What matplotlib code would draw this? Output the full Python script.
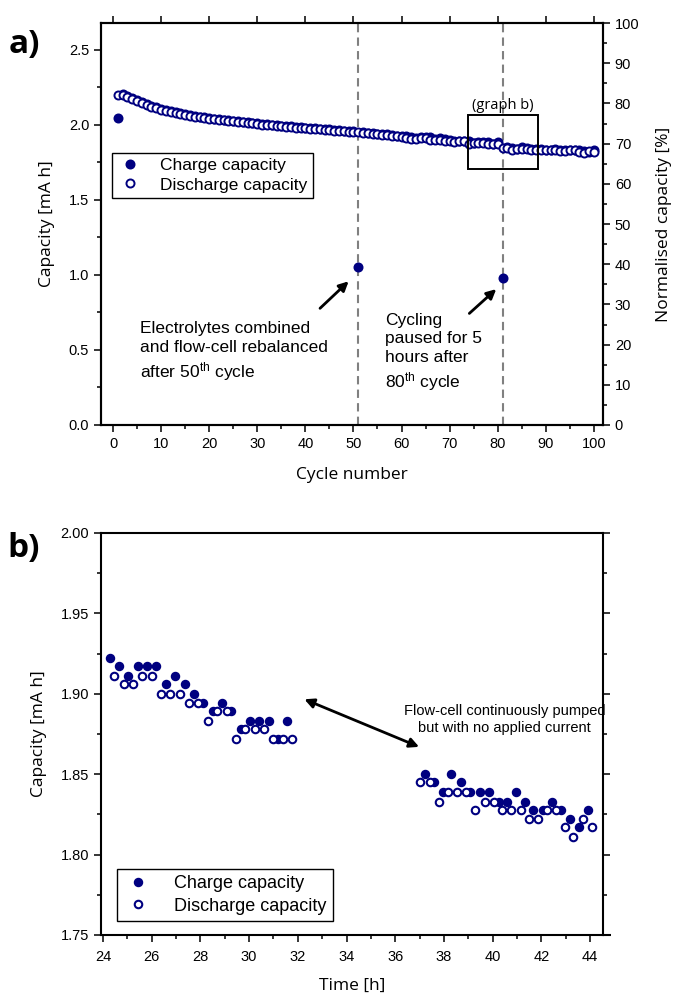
import matplotlib
matplotlib.use("Agg")
import matplotlib.pyplot as plt
from matplotlib.ticker import MultipleLocator, FormatStrFormatter
from matplotlib.patches import Rectangle

plt.rcParams['font.family'] = ['Liberation Sans', 'DejaVu Sans']
plt.rcParams['mathtext.fontset'] = 'custom'
plt.rcParams['mathtext.rm'] = 'Liberation Sans'
plt.rcParams['mathtext.it'] = 'Liberation Sans:italic'

NAVY = '#000080'
TICK_FONT = ['Liberation Sans Narrow', 'Liberation Sans']
LABEL_FONT = ['Open Sans', 'DejaVu Sans']

# ---- (a) capacity per cycle ----
cycle_number = list(range(1, 101))
charge_a = [
    2.045, 2.203, 2.191, 2.175, 2.161, 2.148, 2.136, 2.125, 2.115, 2.105,
    2.097, 2.090, 2.083, 2.077, 2.071, 2.065, 2.059, 2.054, 2.049, 2.045,
    2.041, 2.037, 2.034, 2.030, 2.027, 2.023, 2.020, 2.016, 2.013, 2.010,
    2.006, 2.003, 2.000, 1.997, 1.994, 1.991, 1.988, 1.985, 1.983, 1.980,
    1.978, 1.975, 1.973, 1.971, 1.968, 1.966, 1.963, 1.961, 1.958, 1.956,
    1.055, 1.950, 1.947, 1.944, 1.941, 1.938, 1.935, 1.931, 1.927, 1.923,
    1.922, 1.917, 1.911, 1.917, 1.917, 1.917, 1.906, 1.911, 1.906, 1.900,
    1.894, 1.889, 1.894, 1.889, 1.878, 1.883, 1.883, 1.883, 1.872, 1.883,
    0.977, 1.850, 1.845, 1.839, 1.850, 1.845, 1.839, 1.839, 1.839, 1.833,
    1.833, 1.839, 1.833, 1.828, 1.828, 1.833, 1.828, 1.822, 1.817, 1.828,
]
discharge_a = [
    2.200, 2.198, 2.186, 2.170, 2.156, 2.143, 2.131, 2.120, 2.110, 2.100,
    2.092, 2.085, 2.078, 2.072, 2.066, 2.060, 2.054, 2.049, 2.044, 2.040,
    2.036, 2.032, 2.029, 2.025, 2.022, 2.018, 2.015, 2.011, 2.008, 2.005,
    2.001, 1.998, 1.995, 1.992, 1.989, 1.986, 1.983, 1.980, 1.978, 1.975,
    1.973, 1.970, 1.968, 1.966, 1.963, 1.961, 1.958, 1.956, 1.953, 1.951,
    1.948, 1.945, 1.942, 1.939, 1.936, 1.933, 1.930, 1.926, 1.922, 1.918,
    1.911, 1.906, 1.906, 1.911, 1.911, 1.900, 1.900, 1.900, 1.894, 1.894,
    1.883, 1.889, 1.889, 1.872, 1.878, 1.878, 1.878, 1.872, 1.872, 1.872,
    1.845, 1.845, 1.833, 1.839, 1.839, 1.839, 1.828, 1.833, 1.833, 1.828,
    1.828, 1.828, 1.822, 1.822, 1.828, 1.828, 1.817, 1.811, 1.822, 1.817,
]
event_cycles = [51, 81]

# ---- (b) capacity vs time around the pause ----
time_charge_b = [
    24.27, 24.66, 25.04, 25.43, 25.81, 26.19, 26.58, 26.96, 27.35, 27.73,
    28.11, 28.50, 28.88, 29.27, 29.65, 30.03, 30.42, 30.80, 31.19, 31.57,
    37.21, 37.59, 37.96, 38.31, 38.69, 39.09, 39.47, 39.86, 40.24, 40.57,
    40.95, 41.33, 41.67, 42.05, 42.44, 42.82, 43.18, 43.53, 43.93,
]
charge_b = [
    1.922, 1.917, 1.911, 1.917, 1.917, 1.917, 1.906, 1.911, 1.906, 1.900,
    1.894, 1.889, 1.894, 1.889, 1.878, 1.883, 1.883, 1.883, 1.872, 1.883,
    1.850, 1.845, 1.839, 1.850, 1.845, 1.839, 1.839, 1.839, 1.833, 1.833,
    1.839, 1.833, 1.828, 1.828, 1.833, 1.828, 1.822, 1.817, 1.828,
]
time_discharge_b = [
    24.47, 24.85, 25.24, 25.62, 26.00, 26.39, 26.77, 27.16, 27.54, 27.92,
    28.31, 28.69, 29.08, 29.46, 29.84, 30.23, 30.61, 31.00, 31.38, 31.77,
    37.03, 37.42, 37.79, 38.17, 38.54, 38.92, 39.28, 39.67, 40.05, 40.38,
    40.76, 41.15, 41.48, 41.86, 42.22, 42.60, 42.96, 43.31, 43.70, 44.07,
]
discharge_b = [
    1.911, 1.906, 1.906, 1.911, 1.911, 1.900, 1.900, 1.900, 1.894, 1.894,
    1.883, 1.889, 1.889, 1.872, 1.878, 1.878, 1.878, 1.872, 1.872, 1.872,
    1.845, 1.845, 1.833, 1.839, 1.839, 1.839, 1.828, 1.833, 1.833, 1.828,
    1.828, 1.828, 1.822, 1.822, 1.828, 1.828, 1.817, 1.811, 1.822, 1.817,
]

fig = plt.figure(figsize=(6.74, 9.98), dpi=100)
axa = fig.add_axes([101 / 674, 1 - 425 / 998, 502 / 674, 402 / 998])
axb = fig.add_axes([101 / 674, 1 - 935 / 998, 502 / 674, 402 / 998])


def style_axis(ax):
    for s in ax.spines.values():
        s.set_linewidth(1.5)
    ax.tick_params(which='major', direction='out', length=5, width=1.1, labelsize=10.5, pad=3.5)
    ax.tick_params(which='minor', direction='out', length=3, width=1.1)
    for lab in ax.get_xticklabels() + ax.get_yticklabels():
        lab.set_family(TICK_FONT)


# ---------------- panel a ----------------
for c in event_cycles:
    axa.axvline(c, color='#808080', lw=1.5, dashes=(4, 2.5), zorder=1)

axa.plot(cycle_number, charge_a, 'o', ls='none', color=NAVY, ms=6.0, mew=1.2,
         mec=NAVY, mfc=NAVY, label='Charge capacity', zorder=3)
axa.plot(cycle_number, discharge_a, 'o', ls='none', color=NAVY, ms=5.8, mew=1.4,
         mec=NAVY, mfc='white', label='Discharge capacity', zorder=4)

axa.set_xlim(-2.5, 101.9)
axa.set_ylim(0, 2.677)
axa.xaxis.set_major_locator(MultipleLocator(10))
axa.xaxis.set_minor_locator(MultipleLocator(5))
axa.yaxis.set_major_locator(MultipleLocator(0.5))
axa.yaxis.set_minor_locator(MultipleLocator(0.25))
axa.yaxis.set_major_formatter(FormatStrFormatter('%.1f'))
axa.tick_params(top=True, which='major')
axa.tick_params(which='minor', top=False)
style_axis(axa)
axa.set_xlabel('Cycle number', family=LABEL_FONT, fontsize=12.5, labelpad=12)
axa.set_ylabel('Capacity [mA h]', family=LABEL_FONT, fontsize=12.5, labelpad=10)

axr = axa.twinx()
axr.set_ylim(0, 100)
axr.yaxis.set_major_locator(MultipleLocator(10))
axr.yaxis.set_minor_locator(MultipleLocator(5))
style_axis(axr)
axr.set_ylabel('Normalised capacity [%]', family=LABEL_FONT, fontsize=12.5, labelpad=12)

axa.add_patch(Rectangle((73.9, 1.703), 14.4, 0.36, fill=False, ec='black', lw=1.4, zorder=5))
axa.text(81.1, 2.13, '(graph b)', ha='center', va='center', family=LABEL_FONT, fontsize=10.5)

axa.text(5.6, 0.485, 'Electrolytes combined\nand flow-cell rebalanced\nafter 50$^{\\mathrm{th}}$ cycle',
         ha='left', va='center', fontsize=12.5, linespacing=1.3)
axa.text(56.6, 0.48, 'Cycling\npaused for 5\nhours after\n80$^{\\mathrm{th}}$ cycle',
         ha='left', va='center', fontsize=12.5, linespacing=1.3)
axa.annotate('', xy=(49.0, 0.957), xytext=(43.05, 0.777),
             arrowprops=dict(arrowstyle='-|>', color='black', lw=2.0, mutation_scale=14,
                             shrinkA=0, shrinkB=0))
axa.annotate('', xy=(79.7, 0.905), xytext=(74.1, 0.743),
             arrowprops=dict(arrowstyle='-|>', color='black', lw=2.0, mutation_scale=14,
                             shrinkA=0, shrinkB=0))

leg_a = axa.legend(loc='upper left', bbox_to_anchor=(0.0213, 0.6774), frameon=True,
                   fancybox=False, edgecolor='black', framealpha=1, fontsize=12.5,
                   handletextpad=1.0, borderpad=0.3, labelspacing=0.25, handlelength=1.5,
                   borderaxespad=0)
leg_a.get_frame().set_linewidth(1.0)

# ---------------- panel b ----------------
axb.plot(time_charge_b, charge_b, 'o', ls='none', color=NAVY, ms=5.6, mew=1.2,
         mec=NAVY, mfc=NAVY, label='Charge capacity', zorder=3)
axb.plot(time_discharge_b, discharge_b, 'o', ls='none', color=NAVY, ms=5.4, mew=1.5,
         mec=NAVY, mfc='white', label='Discharge capacity', zorder=4)

axb.set_xlim(23.92, 44.53)
axb.set_ylim(1.75, 2.00)
axb.xaxis.set_major_locator(MultipleLocator(2))
axb.xaxis.set_minor_locator(MultipleLocator(1))
axb.yaxis.set_major_locator(MultipleLocator(0.05))
axb.yaxis.set_minor_locator(MultipleLocator(0.025))
axb.yaxis.set_major_formatter(FormatStrFormatter('%.2f'))
axb.tick_params(right=True, which='both')
style_axis(axb)
axb.tick_params(axis='x', which='major', pad=6)
axb.plot([1, 1.016], [0, 0], transform=axb.transAxes, color='black', lw=1.5,
         clip_on=False, solid_capstyle='butt')
axb.set_xlabel('Time [h]', family=LABEL_FONT, fontsize=12.5, labelpad=10)
axb.set_ylabel('Capacity [mA h]', family=LABEL_FONT, fontsize=12.5, labelpad=10)

axb.annotate('', xy=(32.27, 1.8966), xytext=(36.98, 1.867),
             arrowprops=dict(arrowstyle='<|-|>', color='black', lw=2.0, mutation_scale=14,
                             shrinkA=0, shrinkB=0))
axb.text(40.5, 1.884, 'Flow-cell continuously pumped\nbut with no applied current',
         ha='center', va='center', fontsize=10.5, linespacing=1.2)

leg_b = axb.legend(loc='lower left', bbox_to_anchor=(0.032, 0.035), frameon=True,
                   fancybox=False, edgecolor='black', framealpha=1, fontsize=13,
                   handletextpad=1.2, borderpad=0.35, labelspacing=0.3, handlelength=1.6,
                   borderaxespad=0)
leg_b.get_frame().set_linewidth(1.0)

fig.text(24 / 674, 1 - 45 / 998, 'a)', ha='center', va='center', fontsize=24,
         fontweight='bold', family=LABEL_FONT)
fig.text(24 / 674, 1 - 548 / 998, 'b)', ha='center', va='center', fontsize=24,
         fontweight='bold', family=LABEL_FONT)

fig.savefig('out.png', dpi=100)
